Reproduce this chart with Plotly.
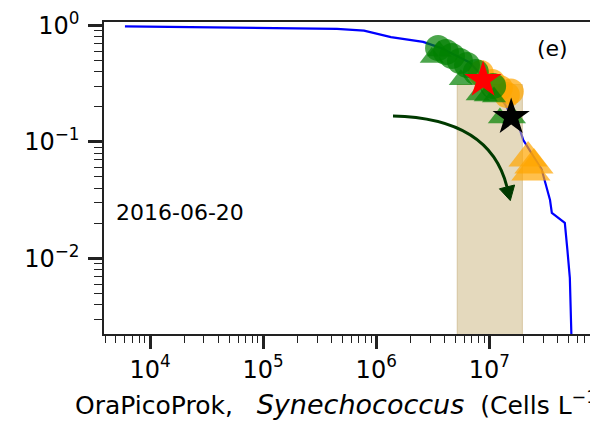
import numpy as np
import plotly.graph_objects as go

# ---------------- data ----------------
# blue curve: fraction of observations exceeding a concentration
curve_x = [6.0e3, 5.0e4, 2.3e5, 4.5e5, 7.8e5, 1.35e6, 2.6e6, 3.7e6, 6.7e6, 1.01e7,
           1.38e7, 1.59e7, 1.87e7, 1.99e7, 2.9e7, 3.1e7, 3.44e7, 3.57e7, 4.65e7, 4.9e7, 5.15e7, 5.33e7]
curve_y = [0.98, 0.96, 0.94, 0.93, 0.90, 0.79, 0.72, 0.64, 0.48, 0.31,
           0.21, 0.16, 0.126, 0.104, 0.058, 0.045, 0.0316, 0.0245, 0.0201, 0.0118, 0.00678, 0.002]

green_circ_x = [3.52e6, 4.14e6, 4.68e6, 5.5e6, 6.35e6, 7.6e6, 1.08e7]
green_circ_y = [0.638, 0.59, 0.545, 0.494, 0.456, 0.397, 0.301]

green_tri_x = [3.1e6, 3.6e6, 5.6e6, 7.9e6, 9.3e6, 1.1e7, 1.24e7, 1.65e7]
green_tri_y = [0.53, 0.60, 0.34, 0.252, 0.247, 0.242, 0.16, 0.16]

orange_circ_x = [8.4e6, 1.06e7, 1.24e7, 1.43e7, 1.55e7]
orange_circ_y = [0.39, 0.326, 0.29, 0.252, 0.27]

orange_tri_x = [2.2e7, 2.48e7, 2.33e7]
orange_tri_y = [0.0727, 0.0633, 0.055]

red_star_x, red_star_y = [8.8e6], [0.339]
black_star_x, black_star_y = [1.56e7], [0.163]

band_x = [5.2e6, 1.96e7]   # shaded concentration band
band_top = 0.31

x_tickvals = [1e4, 1e5, 1e6, 1e7]
x_ticktext = ["10<sup>4</sup>", "10<sup>5</sup>", "10<sup>6</sup>", "10<sup>7</sup>"]
y_tickvals = [1, 0.1, 0.01]
y_ticktext = ["10<sup>0</sup>", "10<sup>\u22121</sup>", "10<sup>\u22122</sup>"]

date_label = "2016-06-20"
panel_label = "(e)"
nb = "\u00a0"
x_title = ("OraPicoProk," + nb * 3 +
           "<i><span style='font-size:27px'>Synechococcus</span></i>" + nb * 2 +
           "(Cells L<sup>\u22121</sup>)")

# ---------------- figure ----------------
W, H = 590, 421
L, R, T, B = 104, 0, 22, 87
x_range = [3.593, 3.593 + (W - L - R) / 113.1]
y_range = [-2.65, 0.028]

def minor_vals(lo, hi):
    out = []
    for d in range(int(np.floor(lo)) - 1, int(np.ceil(hi)) + 1):
        for k in range(2, 10):
            v = k * 10.0 ** d
            if lo <= np.log10(v) <= hi:
                out.append(v)
    return out

fig = go.Figure()

fig.add_trace(go.Scatter(x=curve_x, y=curve_y, mode="lines",
                         line=dict(color="#0000ff", width=2.2), showlegend=False))

fig.add_trace(go.Scatter(x=[band_x[0], band_x[0], band_x[1], band_x[1]],
                         y=[1e-4, band_top, band_top, 1e-4],
                         mode="lines", fill="toself",
                         fillcolor="rgba(205,185,135,0.55)",
                         line=dict(color="rgba(200,175,125,0.6)", width=1),
                         showlegend=False))

fig.add_trace(go.Scatter(x=orange_circ_x, y=orange_circ_y, mode="markers",
                         marker=dict(symbol="circle", size=26, color="rgba(255,165,0,0.7)",
                                     line=dict(width=0)), showlegend=False))
fig.add_trace(go.Scatter(x=green_circ_x, y=green_circ_y, mode="markers",
                         marker=dict(symbol="circle", size=26, color="rgba(0,128,0,0.7)",
                                     line=dict(width=0)), showlegend=False))
fig.add_trace(go.Scatter(x=green_tri_x, y=green_tri_y, mode="markers",
                         marker=dict(symbol="triangle-up", size=21, color="rgba(0,128,0,0.7)",
                                     line=dict(width=0)), showlegend=False))
fig.add_trace(go.Scatter(x=orange_tri_x, y=orange_tri_y, mode="markers",
                         marker=dict(symbol="triangle-up", size=34, color="rgba(255,165,0,0.7)",
                                     line=dict(width=0)), showlegend=False))
fig.add_trace(go.Scatter(x=red_star_x, y=red_star_y, mode="markers",
                         marker=dict(symbol="star", size=28, color="#ff0000",
                                     line=dict(width=0)), showlegend=False))
fig.add_trace(go.Scatter(x=black_star_x, y=black_star_y, mode="markers",
                         marker=dict(symbol="star", size=28, color="#000000",
                                     line=dict(width=0)), showlegend=False))

# curved arrow (annotation) in paper coordinates
pw, ph = W - L - R, H - T - B
def P(px, py):
    return (px - L) / pw, (H - B - py) / ph

p0, p1, p2 = P(393, 116), P(490, 118), P(507, 187)
tip, b1, b2 = P(510.3, 200.6), P(514.6, 185.0), P(499.4, 188.8)
arrow_col = "#003a00"
fig.add_shape(type="path", xref="paper", yref="paper",
              path=f"M {p0[0]},{p0[1]} Q {p1[0]},{p1[1]} {p2[0]},{p2[1]}",
              line=dict(color=arrow_col, width=3))
fig.add_shape(type="path", xref="paper", yref="paper",
              path=f"M {tip[0]},{tip[1]} L {b1[0]},{b1[1]} L {b2[0]},{b2[1]} Z",
              fillcolor=arrow_col, line=dict(color=arrow_col, width=1))

fig.add_annotation(x=P(552, 48)[0], y=P(552, 48)[1], xref="paper", yref="paper",
                   xanchor="center", yanchor="middle",
                   text=panel_label, showarrow=False,
                   font=dict(family="DejaVu Sans", size=22, color="black"))
fig.add_annotation(x=P(180, 212)[0], y=P(180, 212)[1], xref="paper", yref="paper",
                   xanchor="center", yanchor="middle",
                   text=date_label, showarrow=False,
                   font=dict(family="DejaVu Sans", size=22, color="black"))
# x-axis title (extends past the right edge, as in the cropped original)
fig.add_annotation(x=P(73, 403)[0], y=P(73, 403)[1], xref="paper", yref="paper",
                   xanchor="left", yanchor="middle",
                   text=x_title, showarrow=False,
                   font=dict(family="DejaVu Sans", size=25, color="black"))

axis_col = "#222222"
fig.update_xaxes(type="log", range=x_range,
                 tickmode="array", tickvals=x_tickvals, ticktext=x_ticktext,
                 ticks="outside", ticklen=13, tickwidth=2.5, tickcolor=axis_col,
                 showline=True, linecolor=axis_col, linewidth=1.5, mirror=True,
                 showgrid=False, zeroline=False,
                 tickfont=dict(family="DejaVu Sans", size=24, color="black"),
                 minor=dict(tickmode="array", tickvals=minor_vals(*x_range),
                            ticks="outside", ticklen=7, tickwidth=1.2, tickcolor=axis_col,
                            showgrid=False))
fig.update_yaxes(type="log", range=y_range,
                 tickmode="array", tickvals=y_tickvals, ticktext=y_ticktext,
                 ticks="outside", ticklen=14, tickwidth=2.5, tickcolor=axis_col,
                 ticklabelstandoff=4,
                 showline=True, linecolor=axis_col, linewidth=1.5, mirror=False,
                 showgrid=False, zeroline=False,
                 tickfont=dict(family="DejaVu Sans", size=24, color="black"),
                 minor=dict(tickmode="array", tickvals=minor_vals(*y_range),
                            ticks="outside", ticklen=8, tickwidth=1.2, tickcolor=axis_col,
                            showgrid=False))

fig.update_layout(width=W, height=H, margin=dict(l=L, r=R, t=T, b=B, pad=0),
                  plot_bgcolor="white", paper_bgcolor="white", showlegend=False)

fig.write_html("out.html")
